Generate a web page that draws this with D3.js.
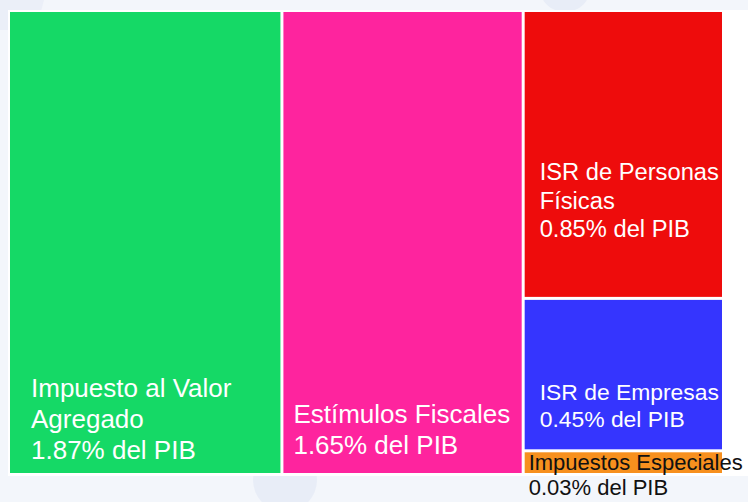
<!DOCTYPE html>
<html>
<head>
<meta charset="utf-8">
<script src="https://cdn.jsdelivr.net/npm/d3@7"></script>
<style>
  html, body { margin: 0; padding: 0; background: #f3f6fb; overflow: hidden; }
  svg { display: block; }
  .label { font-family: "Helvetica Neue", Helvetica, Arial, "Liberation Sans", sans-serif; }
</style>
</head>
<body>
<svg id="chart" width="748" height="502"></svg>
<script>
// data (% del PIB)
const categories = ["Impuesto al Valor Agregado", "Estímulos Fiscales", "ISR de Personas Físicas", "ISR de Empresas", "Impuestos Especiales"];
const values = [1.87, 1.65, 0.85, 0.45, 0.03];
const columns = [0, 1, 2, 2, 2];   // which column of the treemap each item sits in
const suffix = "% del PIB";

// style
const colors = ["#15d966", "#fe249e", "#ee0c0c", "#3535fe", "#f7901e"];
const textColors = ["#ffffff", "#ffffff", "#ffffff", "#ffffff", "#111111"];
const labelInset = [[21, 14], [10, 19], [15, 60], [15, 22], [4, 0]]; // [left, bottom]

const minValue = 0.07;  // smallest cells still get a visible strip
const width = 748, height = 502;
const margin = { top: 12, left: 10 };
const W = 712, H = 461;

const svg = d3.select("#chart");

// faint background shapes
const bg = svg.append("g");
bg.append("circle").attr("cx", 285).attr("cy", 480).attr("r", 32).attr("fill", "#e8edf7");
bg.append("circle").attr("cx", 565).attr("cy", -14).attr("r", 26).attr("fill", "#e8edf7");
bg.append("path").attr("d", "M0,0 L44,0 L36,30 L0,30 Z").attr("fill", "#ebeff8");

// white card
svg.append("rect")
    .attr("x", 8).attr("y", 10)
    .attr("width", width).attr("height", 466)
    .attr("fill", "#ffffff");

// hierarchy: root -> columns -> items
let items = categories.map((c, i) => ({ name: c, value: values[i], i: i }));
let cols = d3.groups(items, d => columns[d.i]).map(([k, list]) =>
    list.length === 1 ? list[0] : { name: "col" + k, children: list });

let root = d3.hierarchy({ name: "root", children: cols })
    .sum(d => d.children ? 0 : Math.max(d.value, minValue));

d3.treemap()
    .size([W, H])
    .paddingInner(3)
    .tile((node, x0, y0, x1, y1) =>
        (node.depth === 0 ? d3.treemapDice : d3.treemapSlice)(node, x0, y0, x1, y1))
    (root);

let g = svg.append("g")
    .attr("transform", "translate(" + margin.left + "," + margin.top + ")");

let leaves = root.leaves();

let cell = g.selectAll(".cell")
    .data(leaves)
    .enter()
    .append("g")
    .attr("class", "cell");

cell.append("rect")
    .attr("x", d => d.x0)
    .attr("y", d => d.y0)
    .attr("width", d => d.x1 - d.x0)
    .attr("height", d => d.y1 - d.y0)
    .attr("fill", d => colors[d.data.i]);

// labels: wrap the name, then the value line, anchored to the cell bottom
let measure = svg.append("text").attr("class", "label").attr("visibility", "hidden");
function textWidth(str, size) {
    measure.attr("font-size", size).text(str);
    return measure.node().getComputedTextLength();
}

function wrap(name, size, maxW) {
    let words = name.split(" ");
    let lines = [];
    let line = words[0];
    for (let k = 1; k < words.length; k++) {
        let test = line + " " + words[k];
        if (textWidth(test, size) > maxW) {
            lines.push(line);
            line = words[k];
        } else {
            line = test;
        }
    }
    lines.push(line);
    return lines;
}

leaves.forEach(d => {
    let i = d.data.i;
    let cw = d.x1 - d.x0, ch = d.y1 - d.y0;
    let small = ch < 40;
    let size = small ? 22 : 26;
    let lines = wrap(d.data.name, size, 240);
    lines.push(d.data.value.toFixed(2) + suffix);

    let x = margin.left + d.x0 + labelInset[i][0];
    let widest = d3.max(lines, l => textWidth(l, size));
    // keep the label inside its cell, or at least inside the page for tiny cells
    let room = small ? width - x - 3 : cw - labelInset[i][0] - 3;
    if (widest > room) size = size * room / widest;
    let lh = small ? 25 : size * 1.19;

    let firstBase = small
        ? d.y0 + 18
        : d.y1 - labelInset[i][1] - lh * (lines.length - 1);

    let t = g.append("text")
        .attr("class", "label")
        .attr("font-size", size)
        .attr("fill", textColors[i]);

    lines.forEach((l, k) => {
        t.append("tspan")
            .attr("x", d.x0 + labelInset[i][0])
            .attr("y", firstBase + k * lh)
            .text(l);
    });
});

measure.remove();
</script>
</body>
</html>
